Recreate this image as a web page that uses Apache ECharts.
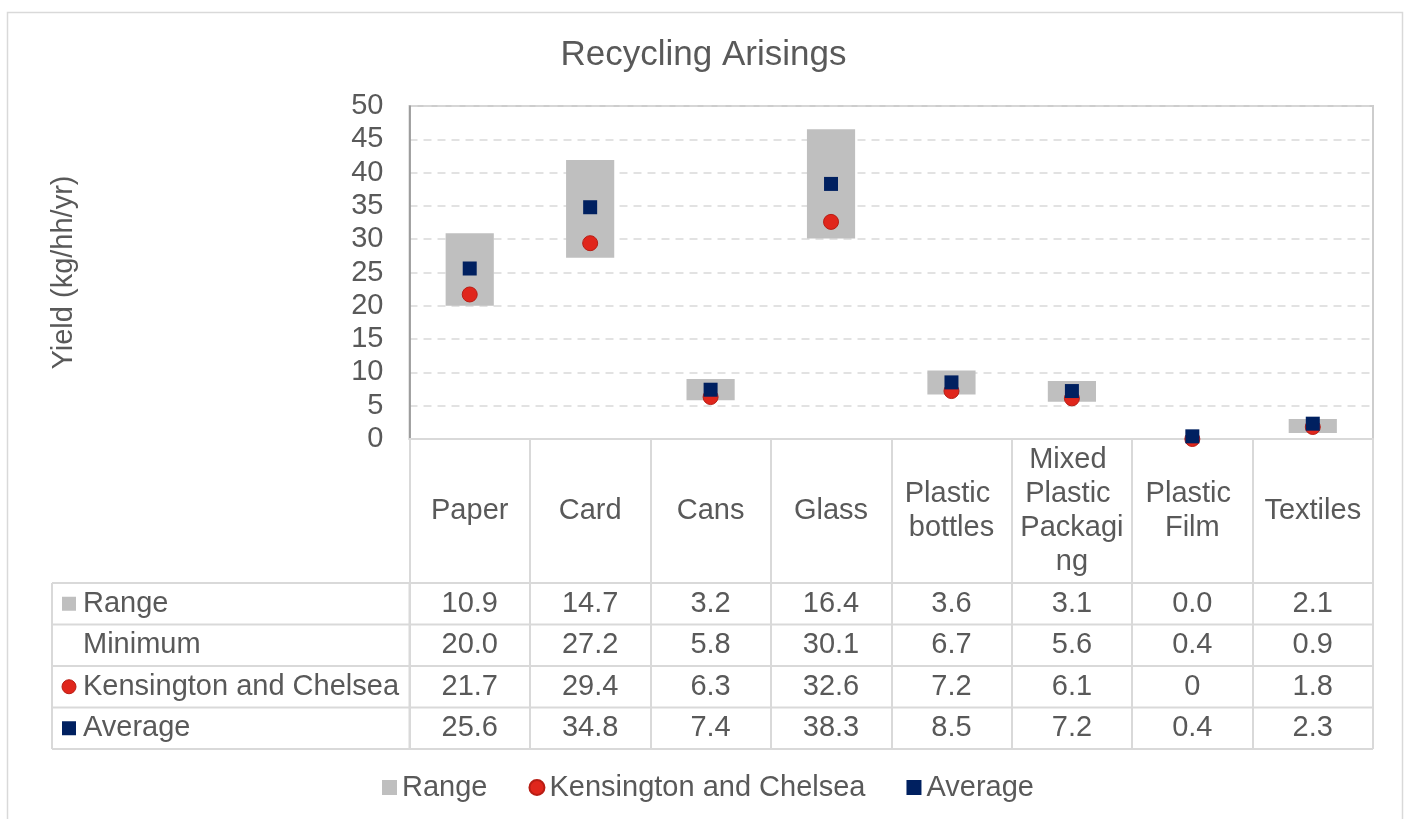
<!DOCTYPE html>
<html>
<head>
<meta charset="utf-8">
<title>Recycling Arisings</title>
<script src="https://cdn.jsdelivr.net/npm/echarts@6/dist/echarts.min.js"></script>
<style>
  html, body { margin: 0; padding: 0; background: #ffffff; }
  #chart { width: 1407px; height: 819px; }
</style>
</head>
<body>
<div id="chart"></div>
<script>
// Yield per household per year, by recycling stream
const categories = ['Paper', 'Card', 'Cans', 'Glass', 'Plastic bottles', 'Mixed Plastic Packaging', 'Plastic Film', 'Textiles'];
const rangeVals = [10.9, 14.7, 3.2, 16.4, 3.6, 3.1, 0.0, 2.1];
const minimumVals = [20.0, 27.2, 5.8, 30.1, 6.7, 5.6, 0.4, 0.9];
const kensingtonVals = [21.7, 29.4, 6.3, 32.6, 7.2, 6.1, 0, 1.8];
const averageVals = [25.6, 34.8, 7.4, 38.3, 8.5, 7.2, 0.4, 2.3];
const yMin = 0, yMax = 50, yStep = 5;

const FONT = "'Liberation Sans', Arial, sans-serif";
const FS = 29;
const TEXT = '#595959';
const LINE = '#D9D9D9';
const C_RANGE = '#BFBFBF';
const C_KC = '#E0261C';
const C_KC_EDGE = '#B81D14';
const C_AVG = '#002060';

// plot area and data-table geometry
const plot = { left: 409.5, right: 1373, top: 106, bottom: 439 };
const table = { keyLeft: 52, catBottom: 583, rowH: 41.5 };

const tableRows = [
  { name: 'Range', values: rangeVals, fmt: v => v.toFixed(1), key: 'rect', color: C_RANGE },
  { name: 'Minimum', values: minimumVals, fmt: v => v.toFixed(1), key: null },
  { name: 'Kensington and Chelsea', values: kensingtonVals, fmt: v => String(v), key: 'circle', color: C_KC },
  { name: 'Average', values: averageVals, fmt: v => String(v), key: 'rect', color: C_AVG }
];
const tableBottom = table.catBottom + table.rowH * tableRows.length;

const chart = echarts.init(document.getElementById('chart'), null, { renderer: 'canvas' });

chart.setOption({
  animation: false,
  backgroundColor: '#ffffff',
  textStyle: { fontFamily: FONT },
  title: {
    text: 'Recycling Arisings',
    left: 'center',
    top: 33,
    textStyle: { fontFamily: FONT, fontSize: 35, fontWeight: 'normal', color: TEXT }
  },
  legend: {
    left: 377,
    top: 768,
    itemWidth: 15,
    itemHeight: 15,
    itemGap: 41,
    textStyle: { fontFamily: FONT, fontSize: FS, color: TEXT },
    data: [
      { name: 'Range', icon: 'rect' },
      { name: 'Kensington and Chelsea', icon: 'circle' },
      { name: 'Average', icon: 'rect' }
    ]
  },
  grid: {
    left: plot.left,
    right: 1407 - plot.right,
    top: plot.top,
    bottom: 819 - plot.bottom,
    show: true,
    borderColor: '#CDCDCD',
    borderWidth: 2,
    containLabel: false
  },
  xAxis: {
    type: 'category',
    data: categories,
    axisLine: { show: true, lineStyle: { color: LINE, width: 2 } },
    axisTick: {
      show: true,
      alignWithLabel: false,
      length: tableBottom - plot.bottom,
      lineStyle: { color: LINE, width: 2 }
    },
    axisLabel: {
      interval: 0,
      margin: (table.catBottom - plot.bottom) / 2,
      verticalAlign: 'middle',
      fontFamily: FONT,
      fontSize: FS,
      lineHeight: 34,
      color: TEXT,
      width: 110,
      overflow: 'break'
    },
    splitLine: { show: false }
  },
  yAxis: {
    type: 'value',
    min: yMin,
    max: yMax,
    interval: yStep,
    name: 'Yield (kg/hh/yr)',
    nameLocation: 'middle',
    nameRotate: 90,
    nameGap: 331,
    nameTextStyle: { fontFamily: FONT, fontSize: FS, color: TEXT },
    axisLine: { show: true, lineStyle: { color: '#8C8C8C', width: 1.5 } },
    axisTick: { show: false },
    axisLabel: { margin: 26, fontFamily: FONT, fontSize: FS, color: TEXT },
    splitLine: { show: true, lineStyle: { color: LINE, width: 1.5, type: [8, 6] } }
  },
  series: [
    {
      name: 'Minimum',
      type: 'bar',
      stack: 'band',
      barWidth: '40%',
      silent: true,
      itemStyle: { color: 'rgba(0,0,0,0)' },
      data: minimumVals
    },
    {
      name: 'Range',
      type: 'bar',
      stack: 'band',
      barWidth: '40%',
      itemStyle: { color: C_RANGE },
      data: rangeVals
    },
    {
      name: 'Kensington and Chelsea',
      type: 'scatter',
      symbol: 'circle',
      symbolSize: 15,
      itemStyle: { color: C_KC, borderColor: C_KC_EDGE, borderWidth: 1, opacity: 1 },
      data: kensingtonVals
    },
    {
      name: 'Average',
      type: 'scatter',
      symbol: 'rect',
      symbolSize: 14,
      itemStyle: { color: C_AVG, opacity: 1 },
      data: averageVals
    }
  ]
});

// Data table under the plot: grid lines, series keys and values
function buildTable() {
  const els = [];
  // chart-area frame
  els.push({
    type: 'rect', silent: true,
    shape: { x: 7.5, y: 12.5, width: 1395, height: 900 },
    style: { fill: 'none', stroke: LINE, lineWidth: 1.5 }
  });
  // horizontal rules
  for (let r = 0; r <= tableRows.length; r++) {
    const y = table.catBottom + table.rowH * r;
    els.push({
      type: 'line', silent: true,
      shape: { x1: table.keyLeft, y1: y, x2: plot.right, y2: y },
      style: { stroke: LINE, lineWidth: 2 }
    });
  }
  // key column verticals
  [table.keyLeft, plot.left].forEach(x => {
    els.push({
      type: 'line', silent: true,
      shape: { x1: x, y1: table.catBottom, x2: x, y2: tableBottom },
      style: { stroke: LINE, lineWidth: 2 }
    });
  });
  tableRows.forEach((row, r) => {
    const cy = table.catBottom + table.rowH * (r + 0.5);
    if (row.key === 'rect') {
      els.push({ type: 'rect', silent: true, shape: { x: 62, y: cy - 7, width: 14, height: 14 }, style: { fill: row.color } });
    } else if (row.key === 'circle') {
      els.push({ type: 'circle', silent: true, shape: { cx: 69, cy: cy, r: 7 }, style: { fill: row.color, stroke: C_KC_EDGE, lineWidth: 1 } });
    }
    els.push({
      type: 'text', silent: true, x: 83, y: cy,
      style: { text: row.name, fontFamily: FONT, fontSize: FS, fill: TEXT, align: 'left', verticalAlign: 'middle' }
    });
    row.values.forEach((v, i) => {
      const cx = chart.convertToPixel({ xAxisIndex: 0 }, i);
      els.push({
        type: 'text', silent: true, x: cx, y: cy,
        style: { text: row.fmt(v), fontFamily: FONT, fontSize: FS, fill: TEXT, align: 'center', verticalAlign: 'middle' }
      });
    });
  });
  return els;
}

chart.setOption({ graphic: { elements: buildTable() } });
</script>
</body>
</html>
